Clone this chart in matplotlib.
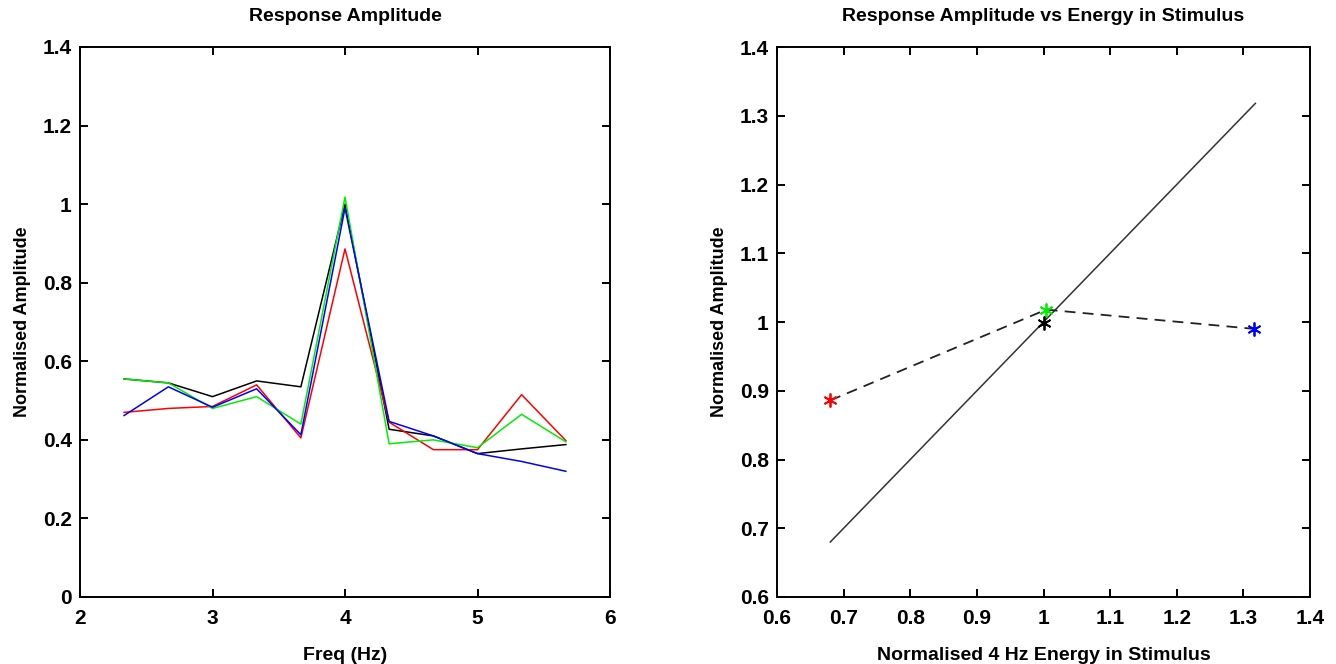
import matplotlib
matplotlib.use("Agg")
import matplotlib.pyplot as plt
from matplotlib.ticker import FuncFormatter

plt.rcParams['font.family'] = ['Liberation Sans', 'DejaVu Sans']
plt.rcParams['font.weight'] = 'bold'

# ---- left panel data ----
freq = [2.333, 2.667, 3.0, 3.333, 3.667, 4.0, 4.333, 4.667, 5.0, 5.333, 5.667]
amp_black = [0.555, 0.545, 0.510, 0.550, 0.535, 1.000, 0.427, 0.410, 0.365, 0.377, 0.388]
amp_red   = [0.470, 0.480, 0.485, 0.540, 0.405, 0.886, 0.445, 0.375, 0.375, 0.515, 0.398]
amp_green = [0.555, 0.545, 0.480, 0.510, 0.440, 1.018, 0.390, 0.400, 0.380, 0.465, 0.395]
amp_blue  = [0.462, 0.535, 0.483, 0.530, 0.413, 0.990, 0.447, 0.410, 0.365, 0.345, 0.320]

# ---- right panel data ----
energy_red, resp_red = 0.680, 0.886
energy_green, resp_green = 1.004, 1.018
energy_black, resp_black = 1.000, 0.998
energy_blue, resp_blue = 1.316, 0.990
unity_x = [0.680, 1.318]
unity_y = [0.680, 1.318]

left_xticks = [2, 3, 4, 5, 6]
left_yticks = [0, 0.2, 0.4, 0.6, 0.8, 1.0, 1.2, 1.4]
right_ticks = [0.6, 0.7, 0.8, 0.9, 1.0, 1.1, 1.2, 1.3, 1.4]

fig = plt.figure(figsize=(13.36, 6.64), dpi=100)
axL = fig.add_axes([80/1336, 1-597/664, 530/1336, 550/664])
axR = fig.add_axes([777/1336, 1-597/664, 533/1336, 550/664])

fmt = FuncFormatter(lambda v, p: ('%g' % round(v, 3)))

def style(ax):
    for s in ax.spines.values():
        s.set_linewidth(1.4)
    ax.tick_params(direction='in', top=True, right=True, length=6, width=1.4,
                   labelsize=15)
    ax.tick_params(axis='x', pad=9)
    ax.tick_params(axis='y', pad=6)
    for lab in ax.get_xticklabels() + ax.get_yticklabels():
        lab.set_fontweight('bold')
    ax.xaxis.set_major_formatter(fmt)
    ax.yaxis.set_major_formatter(fmt)

lw = 1.1
axL.plot(freq, amp_black, color='black', lw=lw)
axL.plot(freq, amp_red, color='#ff0000', lw=lw)
axL.plot(freq, amp_green, color='#00ee00', lw=lw)
axL.plot(freq, amp_blue, color='#0000ff', lw=lw)
axL.set_xlim(2, 6)
axL.set_ylim(0, 1.4)
axL.set_xticks(left_xticks)
axL.set_yticks(left_yticks)
style(axL)
axL.set_title('Response Amplitude', fontsize=14, fontweight='bold', pad=19)
axL.set_xlabel('Freq (Hz)', fontsize=14, fontweight='bold', labelpad=13)
axL.set_ylabel('Normalised Amplitude', fontsize=13, fontweight='bold', labelpad=8)

axR.plot(unity_x, unity_y, color='#333333', lw=lw)
axR.plot([energy_red, energy_green, energy_blue], [resp_red, resp_green, resp_blue],
         color='#222222', lw=1.3, dashes=[6, 4])
star = (6, 2, 0)
axR.plot([energy_red], [resp_red], marker=star, ms=10, mew=1.3, color='#ff0000', ls='none')
axR.plot([energy_green], [resp_green], marker=star, ms=10, mew=1.3, color='#00ee00', ls='none')
axR.plot([energy_black], [resp_black], marker=star, ms=10, mew=1.3, color='black', ls='none')
axR.plot([energy_blue], [resp_blue], marker=star, ms=10, mew=1.3, color='#0000ff', ls='none')
axR.set_xlim(0.6, 1.4)
axR.set_ylim(0.6, 1.4)
axR.set_xticks(right_ticks)
axR.set_yticks(right_ticks)
style(axR)
axR.set_title('Response Amplitude vs Energy in Stimulus', fontsize=14, fontweight='bold', pad=19)
axR.set_xlabel('Normalised 4 Hz Energy in Stimulus', fontsize=14, fontweight='bold', labelpad=13)
axR.set_ylabel('Normalised Amplitude', fontsize=13, fontweight='bold', labelpad=8)

fig.savefig('out.png', dpi=100)
